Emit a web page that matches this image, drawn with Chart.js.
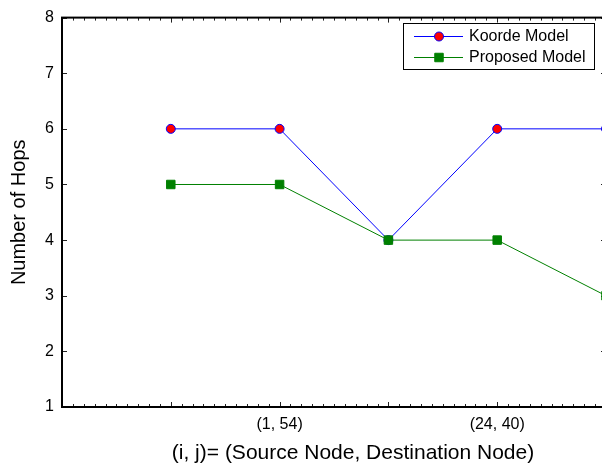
<!DOCTYPE html>
<html>
<head>
<meta charset="utf-8">
<script src="https://cdn.jsdelivr.net/npm/chart.js@4/dist/chart.umd.min.js"></script>
<style>
  html, body { margin: 0; padding: 0; overflow: hidden; background: #fff; width: 602px; height: 468px; }
  canvas { display: block; }
</style>
</head>
<body>
<canvas id="hops" width="610" height="468" style="width:610px;height:468px"></canvas>
<script>
// (source, destination) pairs along the x axis; only some pairs carry a label
const pairPositions = [1, 2, 3, 4, 5];
const pairLabels = ['', '(1, 54)', '', '(24, 40)', ''];

// number of hops per routing model
const koordeHops = [6, 6, 4, 6, 6];
const proposedHops = [5, 5, 4, 4, 3];

// axis extents and ticks
const xRange = [0, 5];
const hopTicks = [1, 2, 3, 4, 5, 6, 7, 8];

const xTitle = '(i, j)= (Source Node, Destination Node)';
const yTitle = 'Number of Hops';

const FONT = "'Liberation Sans', Arial, sans-serif";

const toPoints = vals => vals.map((v, i) => ({ x: pairPositions[i], y: v }));

// MATLAB-style box with inward ticks on all four sides
const axesBox = {
  id: 'axesBox',
  beforeDatasetsDraw(chart) {
    const { ctx, chartArea: a, scales: { x, y } } = chart;
    ctx.save();
    ctx.strokeStyle = '#222';
    ctx.lineWidth = 1;
    ctx.beginPath();
    const steps = (xRange[1] - xRange[0]) * 10;
    for (let s = 0; s <= steps; s++) {
      const v = xRange[0] + s / 10;
      const px = Math.round(x.getPixelForValue(v)) + 0.5;
      const len = s % 10 === 0 ? 5 : 3;
      ctx.moveTo(px, a.bottom); ctx.lineTo(px, a.bottom - len);
      ctx.moveTo(px, a.top); ctx.lineTo(px, a.top + len);
    }
    hopTicks.forEach(t => {
      const py = Math.round(y.getPixelForValue(t)) + 0.5;
      ctx.moveTo(a.left, py); ctx.lineTo(a.left + 5, py);
      ctx.moveTo(a.right, py); ctx.lineTo(a.right - 5, py);
    });
    ctx.stroke();
    ctx.strokeStyle = '#000';
    ctx.lineWidth = 2;
    ctx.strokeRect(a.left, a.top, a.right - a.left, a.bottom - a.top);
    ctx.restore();
  }
};

// x-axis caption, set slightly right of the axis centre
const xCaption = {
  id: 'xCaption',
  afterDraw(chart) {
    const { ctx } = chart;
    ctx.save();
    ctx.fillStyle = '#000';
    ctx.font = '21px ' + FONT;
    ctx.textAlign = 'center';
    ctx.textBaseline = 'middle';
    ctx.fillText(xTitle, 353, 453);
    ctx.restore();
  }
};

// boxed legend in the upper right corner: line through marker, then the label
const boxedLegend = {
  id: 'boxedLegend',
  afterDatasetsDraw(chart) {
    const { ctx } = chart;
    const box = { left: 403, top: 23, width: 191, height: 46 };
    ctx.save();
    ctx.fillStyle = '#fff';
    ctx.fillRect(box.left, box.top, box.width, box.height);
    ctx.strokeStyle = '#000';
    ctx.lineWidth = 1;
    ctx.strokeRect(box.left + 0.5, box.top + 0.5, box.width, box.height);
    chart.data.datasets.forEach((ds, i) => {
      const cy = box.top + 13.5 + i * 21;
      ctx.strokeStyle = ds.borderColor;
      ctx.lineWidth = 1;
      ctx.beginPath();
      ctx.moveTo(414, cy); ctx.lineTo(463, cy);
      ctx.stroke();
      ctx.fillStyle = ds.pointBackgroundColor;
      ctx.strokeStyle = ds.pointBorderColor;
      ctx.lineWidth = ds.pointBorderWidth;
      Chart.helpers.drawPoint(ctx, {
        pointStyle: ds.pointStyle,
        radius: ds.pointRadius,
        borderWidth: ds.pointBorderWidth,
        rotation: 0
      }, 439, cy);
      ctx.fillStyle = '#000';
      ctx.font = '16px ' + FONT;
      ctx.textBaseline = 'middle';
      ctx.textAlign = 'left';
      ctx.fillText(ds.label, 469, cy + 0.5);
    });
    ctx.restore();
  }
};

new Chart(document.getElementById('hops'), {
  type: 'line',
  data: {
    datasets: [
      {
        label: 'Koorde Model',
        data: toPoints(koordeHops),
        borderColor: '#0000ff',
        borderWidth: 1,
        pointStyle: 'circle',
        pointRadius: 4.5,
        pointBackgroundColor: '#ff0000',
        pointBorderColor: '#0000ff',
        pointBorderWidth: 1,
        order: 1,
        tension: 0
      },
      {
        label: 'Proposed Model',
        data: toPoints(proposedHops),
        borderColor: '#008000',
        borderWidth: 1,
        pointStyle: 'rect',
        pointRadius: 6,
        pointBackgroundColor: '#008000',
        pointBorderColor: '#008000',
        pointBorderWidth: 1,
        order: 0,
        tension: 0
      }
    ]
  },
  options: {
    responsive: false,
    animation: false,
    events: [],
    layout: { autoPadding: false, padding: { top: 15, right: 4, left: 0, bottom: 0 } },
    plugins: { legend: { display: false }, tooltip: { enabled: false } },
    scales: {
      x: {
        type: 'linear',
        min: xRange[0],
        max: xRange[1],
        afterFit: s => { s.height = 61; },
        afterBuildTicks: s => { s.ticks = pairPositions.map(v => ({ value: v })); },
        grid: { display: false, drawTicks: true, tickLength: 8 },
        border: { display: false },
        ticks: {
          padding: 0,
          maxRotation: 0,
          autoSkip: false,
          color: '#000',
          font: { family: FONT, size: 16 },
          callback: v => pairLabels[pairPositions.indexOf(v)] ?? ''
        },
        title: { display: false }
      },
      y: {
        min: hopTicks[0],
        max: hopTicks[hopTicks.length - 1],
        afterFit: s => { s.width = 62; },
        afterBuildTicks: s => { s.ticks = hopTicks.map(v => ({ value: v })); },
        grid: { display: false, drawTicks: false },
        border: { display: false },
        ticks: {
          padding: 8,
          color: '#000',
          font: { family: FONT, size: 16 }
        },
        title: {
          display: true,
          text: yTitle,
          color: '#000',
          font: { family: FONT, size: 20 },
          padding: { top: 7, bottom: 0 }
        }
      }
    }
  },
  plugins: [axesBox, boxedLegend, xCaption]
});
</script>
</body>
</html>
